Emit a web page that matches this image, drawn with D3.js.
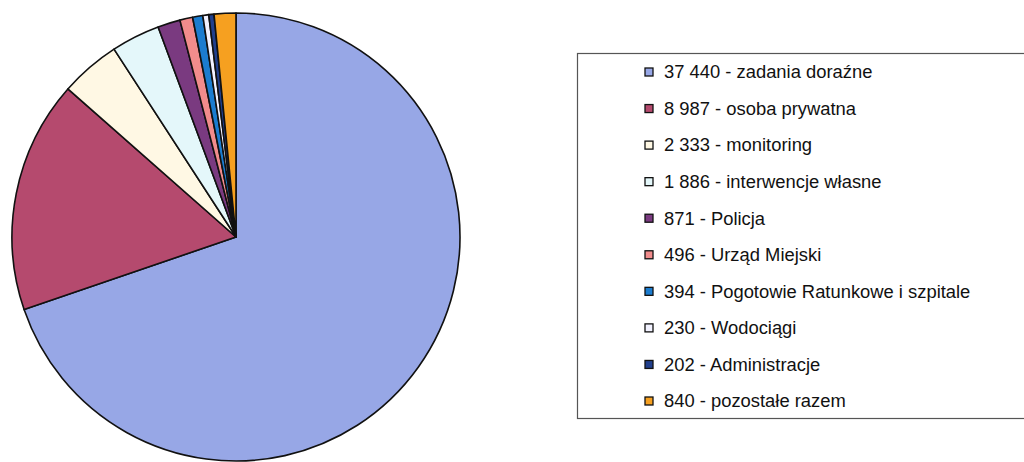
<!DOCTYPE html>
<html>
<head>
<meta charset="utf-8">
<script src="https://cdn.jsdelivr.net/npm/d3@7"></script>
<style>
  body { margin: 0; background: #fff; }
  svg { display: block; }
</style>
</head>
<body>
<svg id="chart" width="1024" height="462"></svg>
<script>
// Data.
const categories = ["zadania doraźne", "osoba prywatna", "monitoring", "interwencje własne",
  "Policja", "Urząd Miejski", "Pogotowie Ratunkowe i szpitale", "Wodociągi",
  "Administracje", "pozostałe razem"];
const values = [37440, 8987, 2333, 1886, 871, 496, 394, 230, 202, 840];
const valueLabels = ["37 440", "8 987", "2 333", "1 886", "871", "496", "394", "230", "202", "840"];
const colors = ["#97a7e6", "#b54a6e", "#fff8e4", "#e4f7fa", "#7a3a80", "#f18c8c",
  "#1b7ccf", "#f2f2ff", "#213f8c", "#f6a020"];

const svg = d3.select("#chart");

// Pie, clockwise from 12 o'clock, in data order.
const cx = 236, cy = 237, r = 224;

const pie = d3.pie()
  .sort(null)
  .value(d => d);

const arc = d3.arc()
  .innerRadius(0)
  .outerRadius(r);

const g = svg.append("g")
  .attr("transform", "translate(" + cx + "," + cy + ")");

g.selectAll("path")
  .data(pie(values))
  .enter()
  .append("path")
    .attr("d", arc)
    .attr("fill", (d, i) => colors[i])
    .attr("stroke", "#111")
    .attr("stroke-width", 1.6)
    .attr("stroke-linejoin", "round");

// Legend box (runs off the right edge).
const legend = svg.append("g");

legend.append("rect")
  .attr("x", 577.5)
  .attr("y", 53.5)
  .attr("width", 460)
  .attr("height", 365)
  .attr("fill", "#fff")
  .attr("stroke", "#555")
  .attr("stroke-width", 1.2);

const rowY = d3.scalePoint()
  .domain(d3.range(categories.length))
  .range([72, 401]);

const rows = legend.selectAll(".row")
  .data(categories)
  .enter()
  .append("g")
    .attr("class", "row")
    .attr("transform", (d, i) => "translate(0," + rowY(i) + ")");

rows.append("rect")
  .attr("x", 645)
  .attr("y", -4)
  .attr("width", 8)
  .attr("height", 8)
  .attr("fill", (d, i) => colors[i])
  .attr("stroke", "#111")
  .attr("stroke-width", 1.3);

// The scanned text is slightly wider than plain Arial, so stretch it a bit.
rows.append("text")
  .attr("transform", "translate(664,0) scale(1.05,1)")
  .attr("dy", "0.36em")
  .attr("font-family", "Liberation Sans, Arial, sans-serif")
  .attr("font-size", "17.5px")
  .attr("fill", "#111")
  .text((d, i) => valueLabels[i] + " - " + d);
</script>
</body>
</html>
